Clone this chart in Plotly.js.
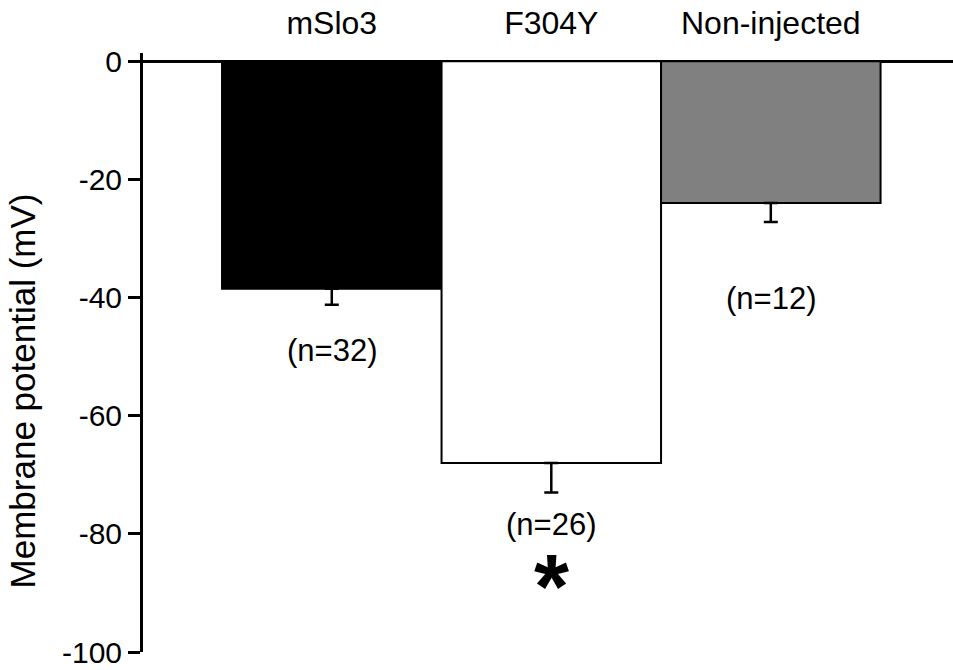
<!DOCTYPE html>
<html>
<head>
<meta charset="utf-8">
<script src="https://cdn.plot.ly/plotly-3.0.1.min.js"></script>
<style>html,body{margin:0;padding:0;background:#fff;}#chart{width:953px;height:670px;}</style>
</head>
<body>
<div id="chart"></div>
<script>
const categories = ["mSlo3", "F304Y", "Non-injected"];
const values = [-38.5, -68, -24];
const errMinus = [2.7, 5, 3.2];
const barColors = ["#000000", "#ffffff", "#808080"];
const nLabels = ["(n=32)", "(n=26)", "(n=12)"];
const nLabelY = [-48.9, -78.5, -40.2];
const yTickVals = [0, -20, -40, -60, -80, -100];
const yTickText = ["0", "-20", "-40", "-60", "-80", "-100"];
const yTitle = "Membrane potential (mV)";

const xIdx = categories.map((c, i) => i);
const FONT = "Liberation Sans, Arial, sans-serif";

const trace = {
  type: "bar",
  x: xIdx,
  y: values,
  width: 1,
  marker: { color: barColors, line: { color: "#000", width: 2 } },
  error_y: {
    type: "data", symmetric: false,
    array: [0, 0, 0], arrayminus: errMinus,
    color: "#000", thickness: 2.5, width: 7
  },
  hoverinfo: "none"
};

const annotations = nLabels.map((t, i) => ({
  x: i, y: nLabelY[i], xref: "x", yref: "y", text: t, showarrow: false,
  font: { family: FONT, size: 31, color: "#000" }
}));
annotations.push({
  x: 1, y: -89, xref: "x", yref: "y", text: "<b>*</b>", showarrow: false,
  font: { family: FONT, size: 90, color: "#000" }
});
annotations.push({
  x: 0, xref: "paper", xanchor: "center", xshift: -121,
  y: 0.435, yref: "paper", yanchor: "middle",
  text: yTitle, textangle: -90, showarrow: false,
  font: { family: FONT, size: 35, color: "#000" }
});

const layout = {
  width: 953, height: 670,
  margin: { l: 143, r: 0, t: 53, b: 18, pad: 0 },
  paper_bgcolor: "#fff", plot_bgcolor: "#fff",
  showlegend: false,
  font: { family: FONT, size: 32, color: "#000" },
  xaxis: {
    side: "top",
    range: [-0.86, 2.83],
    tickvals: xIdx, ticktext: categories,
    ticks: "", showline: false, showgrid: false, zeroline: false,
    ticklabelstandoff: 12,
    tickfont: { size: 32 },
    fixedrange: true
  },
  yaxis: {
    range: [-100, 1.4],
    tickvals: yTickVals, ticktext: yTickText,
    ticks: "outside", ticklen: 12, tickwidth: 3, tickcolor: "#000",
    showline: true, linecolor: "#000", linewidth: 3,
    showgrid: false,
    zeroline: true, zerolinecolor: "#000", zerolinewidth: 3,
    tickfont: { size: 30 },
    ticklabeloverflow: "allow",
    fixedrange: true
  },
  annotations: annotations
};

Plotly.newPlot("chart", [trace], layout, { displayModeBar: false, staticPlot: true });
</script>
</body>
</html>
